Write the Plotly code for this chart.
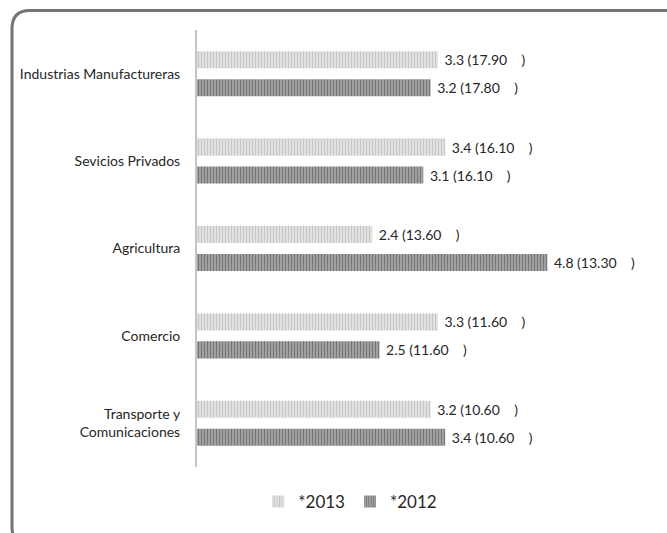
import plotly.graph_objects as go

# Sectors, top to bottom
sectors = ["Industrias Manufactureras", "Sevicios Privados", "Agricultura",
           "Comercio", "Transporte y<br>Comunicaciones"]

growth_2013 = [3.3, 3.4, 2.4, 3.3, 3.2]
share_2013 = [17.90, 16.10, 13.60, 11.60, 10.60]
growth_2012 = [3.2, 3.1, 4.8, 2.5, 3.4]
share_2012 = [17.80, 16.10, 13.30, 11.60, 10.60]

W, H = 667, 533
ML, MR, MT, MB = 197, 32, 30, 66
PW, PH = W - ML - MR, H - MT - MB

NB = "\u00a0"


def labels(growth, share):
    return [f"{NB}{g:.1f} ({s:.2f}{NB*4})" for g, s in zip(growth, share)]


fig = go.Figure()
fig.add_trace(go.Bar(
    name="*2013", y=sectors, x=growth_2013, orientation="h",
    text=labels(growth_2013, share_2013), textposition="outside",
    textfont=dict(size=14, color="#262626"), cliponaxis=False,
    marker=dict(color="#e4e4e4", line=dict(width=0),
                pattern=dict(shape="|", fgcolor="#a4a4a4", bgcolor="#e6e6e6",
                             size=3, solidity=0.45)),
))
fig.add_trace(go.Bar(
    name="*2012", y=sectors, x=growth_2012, orientation="h",
    text=labels(growth_2012, share_2012), textposition="outside",
    textfont=dict(size=14, color="#262626"), cliponaxis=False,
    marker=dict(color="#9a9a9a", line=dict(width=0),
                pattern=dict(shape="|", fgcolor="#454545", bgcolor="#a8a8a8",
                             size=3, solidity=0.45)),
))


def px_x(v):
    return (v - ML) / PW


def px_y(v):
    return (H - MB - v) / PH


# Rounded frame around the chart (open to the right and bottom edges)
x0, y0, x1, y1, r = 12, 10.5, 720, 545, 18
path = (f"M {px_x(x0)},{px_y(y0 + r)} Q {px_x(x0)},{px_y(y0)} {px_x(x0 + r)},{px_y(y0)} "
        f"L {px_x(x1)},{px_y(y0)} L {px_x(x1)},{px_y(y1)} "
        f"L {px_x(x0 + r)},{px_y(y1)} Q {px_x(x0)},{px_y(y1)} {px_x(x0)},{px_y(y1 - r)} Z")

fig.update_layout(
    width=W, height=H,
    margin=dict(l=ML, r=MR, t=MT, b=MB),
    paper_bgcolor="white", plot_bgcolor="white",
    font=dict(family="Lato, sans-serif", color="#262626"),
    barmode="group", bargap=0.36, bargroupgap=0.39,
    showlegend=True,
    legend=dict(orientation="h", x=0.35, xanchor="center", y=-0.08, yanchor="middle",
                font=dict(size=17, color="#262626"), itemwidth=30,
                traceorder="normal"),
    shapes=[dict(type="path", xref="paper", yref="paper", path=path,
                 line=dict(color="#777373", width=3), fillcolor="rgba(0,0,0,0)",
                 layer="below")],
    xaxis=dict(range=[0, 6], visible=False, fixedrange=True),
    yaxis=dict(autorange="reversed", showline=True, linecolor="#c4c4c4", linewidth=2,
               ticks="", showgrid=False, tickfont=dict(size=14, color="#262626"),
               ticklabelstandoff=12),
)

fig.write_html("out.html")
